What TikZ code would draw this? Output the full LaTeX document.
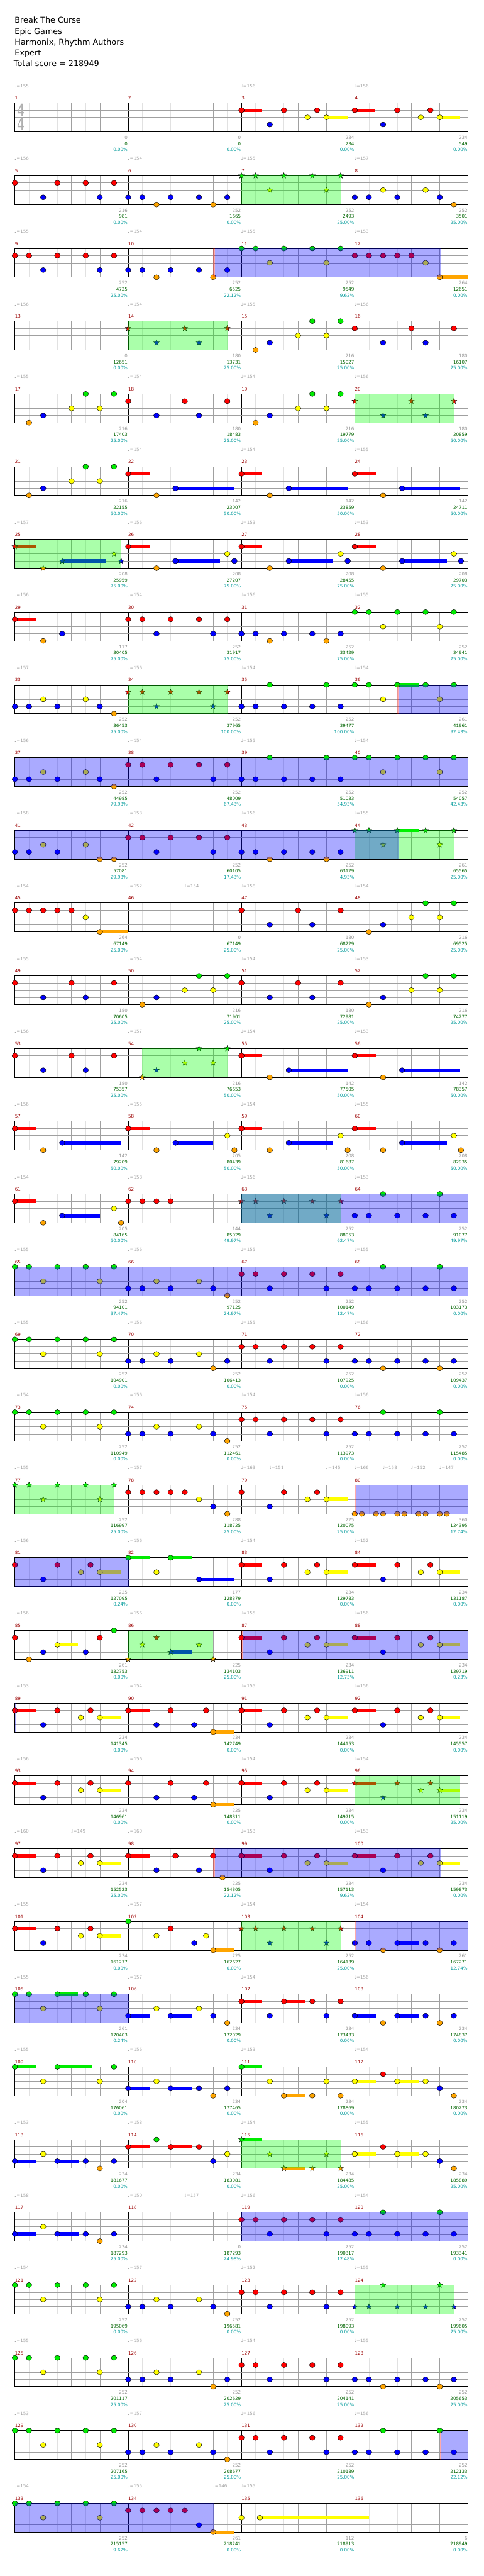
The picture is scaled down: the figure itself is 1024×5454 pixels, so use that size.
\documentclass[tikz,border=0pt]{standalone}
\usepackage{fontspec}
\setmainfont{DejaVu Sans}
\usepackage{graphicx}
\usepackage{xcolor}
\usepackage{tikz}
\definecolor{lane0}{RGB}{0, 235, 0}
\definecolor{lane1}{RGB}{255, 0, 0}
\definecolor{lane2}{RGB}{255, 255, 0}
\definecolor{lane3}{RGB}{0, 0, 255}
\definecolor{lane4}{RGB}{255, 165, 0}
\definecolor{gridlight}{RGB}{225, 225, 225}
\definecolor{gridbeat}{RGB}{160, 160, 160}
\definecolor{tempogray}{RGB}{165, 165, 165}
\definecolor{barred}{RGB}{155, 0, 0}
\definecolor{gaingray}{RGB}{150, 150, 150}
\definecolor{totalgreen}{RGB}{0, 100, 0}
\definecolor{pctteal}{RGB}{0, 155, 155}
\definecolor{siggray}{RGB}{175, 175, 175}
\newcommand{\chartfont}{\fontsize{9.5}{11}\selectfont}
\tikzset{
  halfline/.style={draw=gridlight, line width=0.9pt},
  beatline/.style={draw=gridbeat, line width=0.9pt},
  barline/.style={draw=black, line width=0.9pt},
  staffline/.style={draw=gridbeat, line width=0.9pt},
  staffframe/.style={draw=black, line width=1.2pt},
  notehead/.style={draw=black, line width=0.6pt},
  starnote/.style={draw=black, line width=0.5pt},
  phrasefill/.style={fill=green, fill opacity=0.333},
  actfill/.style={fill=blue, fill opacity=0.333},
  actmarkfill/.style={fill=red, fill opacity=0.333},
  titleline/.style={anchor=base west, inner sep=0pt, font=\fontsize{17}{20}\selectfont},
  timesig/.style={inner sep=0pt, text=siggray, font=\fontsize{37}{37}\selectfont},
  tempolabel/.style={anchor=base west, inner sep=0pt, text=tempogray, font=\chartfont},
  measurenum/.style={anchor=base west, inner sep=0pt, text=barred, font=\chartfont},
  gainlabel/.style={anchor=base east, inner sep=0pt, text=gaingray, font=\chartfont},
  totallabel/.style={anchor=base east, inner sep=0pt, text=totalgreen, font=\chartfont},
  pctlabel/.style={anchor=base east, inner sep=0pt, text=pctteal, font=\chartfont}
}
\newcommand{\staffrow}[1]{%
  \pgfmathsetmacro{\rowtop}{218+154*(#1-1)}%
  \foreach \h in {0.5,1.5,...,15.5}
    \draw[halfline] ({31.5+60*\h},\rowtop) -- ++(0,61);
  \foreach \h in {1,2,3,5,6,7,9,10,11,13,14,15}
    \draw[beatline] ({31.5+60*\h},\rowtop) -- ++(0,61);
  \foreach \h in {4,8,12}
    \draw[barline] ({31.5+60*\h},\rowtop) -- ++(0,61);
  \foreach \lane in {1,2,3}
    \draw[staffline] (31.5,{\rowtop+15.25*\lane}) -- ++(960,0);
  \draw[staffframe] (31.5,\rowtop) rectangle ++(960,61);
  \foreach \k in {0,...,3}{
    \pgfmathtruncatemacro{\m}{4*#1-3+\k}
    \node[measurenum] (bar\m) at ({31.5+240*\k},{\rowtop-6.7}) {\m};
  }%
}
\newcommand{\drawsus}[2]{%
  \pgfmathsetmacro{\rowtop}{218+154*(#1-1)}%
  \foreach \pos/\tend/\lane in {#2}
    \fill[lane\lane] ({31.5+60*\pos},{\rowtop+15.25*\lane-3.5}) rectangle ({31.5+60*\tend},{\rowtop+15.25*\lane+3.5});
}
\newcommand{\drawnotes}[2]{%
  \pgfmathsetmacro{\rowtop}{218+154*(#1-1)}%
  \foreach \pos/\lane in {#2}
    \filldraw[notehead, fill=lane\lane] ({31.5+60*\pos},{\rowtop+15.25*\lane}) circle[x radius=5.9pt, y radius=5.4pt];
}
\newcommand{\drawstars}[2]{%
  \pgfmathsetmacro{\rowtop}{218+154*(#1-1)}%
  \foreach \pos/\lane in {#2}
    \filldraw[starnote, fill=lane\lane, shift={({31.5+60*\pos},{\rowtop+15.25*\lane})}]
      (90:6.3pt) -- (126:2.6pt) -- (162:6.3pt) -- (198:2.6pt) -- (234:6.3pt) -- (270:2.6pt)
      -- (306:6.3pt) -- (342:2.6pt) -- (18:6.3pt) -- (54:2.6pt) -- cycle;
}
\newcommand{\phrase}[3]{%
  \pgfmathsetmacro{\rowtop}{218+154*(#1-1)}%
  \fill[phrasefill] ({31.5+60*#2},\rowtop) rectangle ({31.5+60*#3},{\rowtop+61});
}
\newcommand{\actmark}[3]{%
  \pgfmathsetmacro{\rowtop}{218+154*(#1-1)}%
  \fill[actmarkfill] ({31.5+60*#2},\rowtop) rectangle ({31.5+60*#3},{\rowtop+61});
}
\newcommand{\activation}[3]{%
  \pgfmathsetmacro{\rowtop}{218+154*(#1-1)}%
  \fill[actfill] ({31.5+60*#2},\rowtop) rectangle ({31.5+60*#3},{\rowtop+61});
}
\newcommand{\tempomarks}[2]{%
  \pgfmathsetmacro{\rowtop}{218+154*(#1-1)}%
  \foreach \pos/\bpm [count=\i] in {#2}
    \node[tempolabel] (tempo#1-\i) at ({30.5+60*\pos},{\rowtop-32.7}) {♩=\bpm};
}
\newcommand{\measurescores}[2]{%
  \pgfmathsetmacro{\rowtop}{218+154*(#1-1)}%
  \foreach \gain/\tot/\pct [count=\k] in {#2}{
    \pgfmathsetmacro{\xe}{30.5+240*\k}
    \pgfmathtruncatemacro{\m}{4*#1-4+\k}
    \node[gainlabel] (gain\m) at (\xe,{\rowtop+77}) {\gain};
    \node[totallabel] (total\m) at (\xe,{\rowtop+90}) {\tot};
    \node[pctlabel] (pct\m) at (\xe,{\rowtop+102.7}) {\pct\%};
  }%
}

\begin{document}
\begin{tikzpicture}[x=1pt, y=-1pt]
  \fill[white] (0,0) rectangle (1024,5454);
  \useasboundingbox (0,0) rectangle (1024,5454);

  \foreach \txt [count=\i] in {Break The Curse, Epic Games, {Harmonix, Rhythm Authors}, Expert}
    \node[titleline] (title\i) at (31,{26+23*\i}) {\txt};
  \node[titleline] (title5) at (29,141) {Total score = 218949};

  % bars 1-4
  \staffrow{1}
  \node[timesig] (sigtop) at (44,234) {\scalebox{0.68}[1]{4}};
  \node[timesig] (sigbot) at (44,263) {\scalebox{0.68}[1]{4}};
  \drawsus{1}{8/8.73/1, 11/11.75/2, 12/12.73/1, 15/15.73/2}
  \drawnotes{1}{8/1, 9/3, 9.5/1, 10.33/2, 10.67/1, 11/2, 12/1, 13/3, 13.5/1, 14.33/2, 14.67/1, 15/2}
  \tempomarks{1}{0/155, 8/156, 12/156}
  \measurescores{1}{0/0/0.00, 0/0/0.00, 234/234/0.00, 234/549/0.00}

  % bars 5-8
  \staffrow{2}
  \drawnotes{2}{0/1, 1/3, 1.5/1, 2.5/1, 3/3, 3.5/1, 4/3, 4.5/3, 5/4, 5.5/3, 6.5/3, 7/4, 7.5/3, 12/3, 12.5/3, 13/2, 13.5/3, 14.5/2, 15/3, 15.5/4}
  \drawstars{2}{8/0, 8.5/0, 9/2, 9.5/0, 10.5/0, 11/2, 11.5/0}
  \phrase{2}{8}{11.5}
  \tempomarks{2}{0/156, 4/154, 8/155, 12/157}
  \measurescores{2}{216/981/0.00, 252/1665/0.00, 252/2493/25.00, 252/3501/25.00}

  % bars 9-12
  \staffrow{3}
  \drawsus{3}{15/16/4}
  \drawnotes{3}{0/1, 0.5/1, 1/3, 1.5/1, 2.5/1, 3/3, 3.5/1, 4/3, 4.5/3, 5/4, 5.5/3, 6.5/3, 7/4, 7.5/3, 8/0, 8.5/0, 9/2, 9.5/0, 10.5/0, 11/2, 11.5/0, 12/1, 12.5/1, 13/1, 13.5/1, 14/1, 14.5/2, 15/4}
  \actmark{3}{7}{7.07}
  \activation{3}{7.07}{15.05}
  \tempomarks{3}{0/155, 4/154, 8/155, 12/153}
  \measurescores{3}{252/4725/25.00, 252/6525/22.12, 252/9549/9.62, 264/12651/0.00}

  % bars 13-16
  \staffrow{4}
  \drawnotes{4}{8.5/4, 9/3, 10/2, 10.5/0, 11/2, 11.5/0, 12/1, 13/3, 14/1, 14.5/3, 15.5/1}
  \drawstars{4}{4/1, 5/3, 6/1, 6.5/3, 7.5/1}
  \phrase{4}{4}{7.5}
  \tempomarks{4}{0/156, 4/154, 8/155, 12/156}
  \measurescores{4}{0/12651/0.00, 180/13731/25.00, 216/15027/25.00, 180/16107/25.00}

  % bars 17-20
  \staffrow{5}
  \drawnotes{5}{0.5/4, 1/3, 2/2, 2.5/0, 3/2, 3.5/0, 4/1, 5/3, 6/1, 6.5/3, 7.5/1, 8.5/4, 9/3, 10/2, 10.5/0, 11/2, 11.5/0}
  \drawstars{5}{12/1, 13/3, 14/1, 14.5/3, 15.5/1}
  \phrase{5}{12}{15.5}
  \tempomarks{5}{0/155, 4/154, 8/154, 12/156}
  \measurescores{5}{216/17403/25.00, 180/18483/25.00, 216/19779/25.00, 180/20859/50.00}

  % bars 21-24
  \staffrow{6}
  \drawsus{6}{4/4.75/1, 5.67/7.74/3, 8/8.74/1, 9.67/11.74/3, 12/12.74/1, 13.67/15.73/3}
  \drawnotes{6}{0.5/4, 1/3, 2/2, 2.5/0, 3/2, 3.5/0, 4/1, 5/4, 5.67/3, 8/1, 9/4, 9.67/3, 12/1, 13/4, 13.67/3}
  \tempomarks{6}{4/154, 8/154, 12/155}
  \measurescores{6}{216/22155/50.00, 142/23007/50.00, 142/23859/50.00, 142/24711/50.00}

  % bars 25-28
  \staffrow{7}
  \drawsus{7}{0/0.74/1, 1.67/3.23/3, 4/4.75/1, 5.67/7.25/3, 8/8.74/1, 9.67/11.24/3, 12/12.74/1, 13.67/15.25/3}
  \drawnotes{7}{4/1, 5/4, 5.67/3, 7.5/2, 7.75/3, 8/1, 9/4, 9.67/3, 11.5/2, 11.75/3, 12/1, 13/4, 13.67/3, 15.5/2, 15.75/3}
  \drawstars{7}{0/1, 1/4, 1.67/3, 3.5/2, 3.75/3}
  \phrase{7}{0}{3.73}
  \tempomarks{7}{0/157, 4/156, 8/153, 12/153}
  \measurescores{7}{208/25959/75.00, 208/27207/75.00, 208/28455/75.00, 208/29703/75.00}

  % bars 29-32
  \staffrow{8}
  \drawsus{8}{0/0.74/1}
  \drawnotes{8}{0/1, 1/4, 1.67/3, 4/1, 4.5/1, 5/3, 5.5/1, 6.5/1, 7/3, 7.5/1, 8/3, 8.5/3, 9/4, 9.5/3, 10.5/3, 11/4, 11.5/3, 12/0, 12.5/0, 13/2, 13.5/0, 14.5/0, 15/2, 15.5/0}
  \tempomarks{8}{0/156, 4/154, 8/156, 12/155}
  \measurescores{8}{117/30405/75.00, 252/31917/75.00, 252/33429/75.00, 252/34941/75.00}

  % bars 33-36
  \staffrow{9}
  \drawsus{9}{13.5/14.25/0}
  \drawnotes{9}{0/3, 0.5/3, 1/2, 1.5/3, 2.5/2, 3/3, 3.5/4, 8/3, 8.5/3, 9/0, 9.5/3, 10.5/3, 11/0, 11.5/3, 12/0, 12.5/0, 13/2, 13.5/0, 14.5/0, 15/2, 15.5/0}
  \drawstars{9}{4/1, 4.5/1, 5/3, 5.5/1, 6.5/1, 7/3, 7.5/1}
  \phrase{9}{4}{7.5}
  \actmark{9}{13.5}{13.57}
  \activation{9}{13.57}{16}
  \tempomarks{9}{0/157, 4/156, 8/154, 12/154}
  \measurescores{9}{252/36453/75.00, 252/37965/100.00, 252/39477/100.00, 261/41961/92.43}

  % bars 37-40
  \staffrow{10}
  \drawnotes{10}{0/3, 0.5/3, 1/2, 1.5/3, 2.5/2, 3/3, 3.5/4, 4/1, 4.5/1, 5/3, 5.5/1, 6.5/1, 7/3, 7.5/1, 8/3, 8.5/3, 9/0, 9.5/3, 10.5/3, 11/0, 11.5/3, 12/0, 12.5/0, 13/2, 13.5/0, 14.5/0, 15/2, 15.5/0}
  \activation{10}{0}{16}
  \tempomarks{10}{0/156, 4/154, 8/155, 12/154}
  \measurescores{10}{252/44985/79.93, 252/48009/67.43, 252/51033/54.93, 252/54057/42.43}

  % bars 41-44
  \staffrow{11}
  \drawsus{11}{13.5/14.25/0}
  \drawnotes{11}{0/3, 0.5/3, 1/2, 1.5/3, 2.5/2, 3/4, 3.5/4, 4/1, 4.5/1, 5/3, 5.5/1, 6.5/1, 7/3, 7.5/1, 8/3, 8.5/3, 9/4, 9.5/3, 10.5/3, 11/4, 11.5/3}
  \drawstars{11}{12/0, 12.5/0, 13/2, 13.5/0, 14.5/0, 15/2, 15.5/0}
  \phrase{11}{12}{15.5}
  \activation{11}{0}{13.57}
  \tempomarks{11}{0/158, 4/153, 8/156, 12/155}
  \measurescores{11}{252/57081/29.93, 252/60105/17.43, 252/63129/4.93, 261/65565/25.00}

  % bars 45-48
  \staffrow{12}
  \drawsus{12}{3/4/4}
  \drawnotes{12}{0/1, 0.5/1, 1/1, 1.5/1, 2/1, 2.5/2, 3/4, 8/1, 9/3, 10/1, 10.5/3, 11.5/1, 12.5/4, 13/3, 14/2, 14.5/0, 15/2, 15.5/0}
  \tempomarks{12}{0/154, 4/152, 6/154, 8/158, 12/154}
  \measurescores{12}{264/67149/25.00, 0/67149/25.00, 180/68229/25.00, 216/69525/25.00}

  % bars 49-52
  \staffrow{13}
  \drawnotes{13}{0/1, 1/3, 2/1, 2.5/3, 3.5/1, 4.5/4, 5/3, 6/2, 6.5/0, 7/2, 7.5/0, 8/1, 9/3, 10/1, 10.5/3, 11.5/1, 12.5/4, 13/3, 14/2, 14.5/0, 15/2, 15.5/0}
  \tempomarks{13}{0/155, 4/154, 8/154, 12/153}
  \measurescores{13}{180/70605/25.00, 216/71901/25.00, 180/72981/25.00, 216/74277/25.00}

  % bars 53-56
  \staffrow{14}
  \drawsus{14}{8/8.74/1, 9.67/11.74/3, 12/12.74/1, 13.67/15.73/3}
  \drawnotes{14}{0/1, 1/3, 2/1, 2.5/3, 3.5/1, 8/1, 9/4, 9.67/3, 12/1, 13/4, 13.67/3}
  \drawstars{14}{4.5/4, 5/3, 6/2, 6.5/0, 7/2, 7.5/0}
  \phrase{14}{4.5}{7.5}
  \tempomarks{14}{0/156, 4/157, 8/154, 12/153}
  \measurescores{14}{180/75357/25.00, 216/76653/50.00, 142/77505/50.00, 142/78357/50.00}

  % bars 57-60
  \staffrow{15}
  \drawsus{15}{0/0.74/1, 1.67/3.73/3, 4/4.75/1, 5.67/7/3, 8/8.74/1, 9.67/11.24/3, 12/12.74/1, 13.67/15.25/3}
  \drawnotes{15}{0/1, 1/4, 1.67/3, 4/1, 5/4, 5.67/3, 7.5/2, 7.75/4, 8/1, 9/4, 9.67/3, 11.5/2, 11.75/4, 12/1, 13/4, 13.67/3, 15.5/2, 15.75/4}
  \tempomarks{15}{0/156, 4/155, 8/154, 12/155}
  \measurescores{15}{142/79209/50.00, 205/80439/50.00, 208/81687/50.00, 208/82935/50.00}

  % bars 61-64
  \staffrow{16}
  \drawsus{16}{0/0.74/1, 1.67/3/3}
  \drawnotes{16}{0/1, 1/4, 1.67/3, 3.5/2, 3.75/4, 4/1, 4.5/1, 5/1, 5.5/1, 12/3, 12.5/3, 13/0, 13.5/3, 14.5/3, 15/0, 15.5/3}
  \drawstars{16}{8/1, 8.5/1, 9/3, 9.5/1, 10.5/1, 11/3, 11.5/1}
  \phrase{16}{8}{11.5}
  \activation{16}{8}{16}
  \tempomarks{16}{0/154, 4/158, 8/156, 12/153}
  \measurescores{16}{205/84165/50.00, 144/85029/49.97, 252/88053/62.47, 252/91077/49.97}

  % bars 65-68
  \staffrow{17}
  \drawnotes{17}{0/0, 0.5/0, 1/2, 1.5/0, 2.5/0, 3/2, 3.5/0, 4/3, 4.5/3, 5/2, 5.5/3, 6.5/2, 7/3, 7.5/4, 8/1, 8.5/1, 9/3, 9.5/1, 10.5/1, 11/3, 11.5/1, 12/3, 12.5/3, 13/0, 13.5/3, 14.5/3, 15/0, 15.5/3}
  \activation{17}{0}{16}
  \tempomarks{17}{0/155, 4/156, 8/155, 12/155}
  \measurescores{17}{252/94101/37.47, 252/97125/24.97, 252/100149/12.47, 252/103173/0.00}

  % bars 69-72
  \staffrow{18}
  \drawnotes{18}{0/0, 0.5/0, 1/2, 1.5/0, 2.5/0, 3/2, 3.5/0, 4/3, 4.5/3, 5/2, 5.5/3, 6.5/2, 7/4, 7.5/3, 8/1, 8.5/1, 9/3, 9.5/1, 10.5/1, 11/3, 11.5/1, 12/3, 12.5/3, 13/4, 13.5/3, 14.5/3, 15/4, 15.5/3}
  \tempomarks{18}{0/155, 4/156, 8/155, 12/156}
  \measurescores{18}{252/104901/0.00, 252/106413/0.00, 252/107925/0.00, 252/109437/0.00}

  % bars 73-76
  \staffrow{19}
  \drawnotes{19}{0/0, 0.5/0, 1/2, 1.5/0, 2.5/0, 3/2, 3.5/0, 4/3, 4.5/3, 5/2, 5.5/3, 6.5/2, 7/3, 7.5/4, 8/1, 8.5/1, 9/3, 9.5/1, 10.5/1, 11/3, 11.5/1, 12/3, 12.5/3, 13/0, 13.5/3, 14.5/3, 15/0, 15.5/3}
  \tempomarks{19}{0/154, 4/156, 8/154, 12/156}
  \measurescores{19}{252/110949/0.00, 252/112461/0.00, 252/113973/0.00, 252/115485/0.00}

  % bars 77-80
  \staffrow{20}
  \drawsus{20}{11/11.75/2}
  \drawnotes{20}{4/1, 4.5/1, 5/1, 5.5/1, 6/1, 6.5/2, 7/3, 7.5/4, 8/1, 9/3, 9.5/1, 10.33/2, 10.67/1, 11/2, 12/4, 12.25/4, 12.75/4, 13/4, 13.5/4, 13.75/4, 14.25/4, 14.5/4, 15/4, 15.25/4}
  \drawstars{20}{0/0, 0.5/0, 1/2, 1.5/0, 2.5/0, 3/2, 3.5/0}
  \phrase{20}{0}{3.5}
  \actmark{20}{12}{12.05}
  \activation{20}{12.05}{16}
  \tempomarks{20}{0/155, 4/157, 8/163, 9/151, 11/145, 12/166, 13/158, 14/152, 15/147}
  \measurescores{20}{252/116997/25.00, 288/118725/25.00, 225/120075/25.00, 360/124395/12.74}

  % bars 81-84
  \staffrow{21}
  \drawsus{21}{3/3.73/2, 4/4.75/0, 5.5/6.24/0, 6.5/7.74/3, 8/8.74/1, 11/11.75/2, 12/12.74/1, 15/15.73/2}
  \drawnotes{21}{0/1, 1/3, 1.5/1, 2.33/2, 2.67/1, 3/2, 4/0, 5/2, 5.5/0, 6.5/3, 8/1, 9/3, 9.5/1, 10.33/2, 10.67/1, 11/2, 12/1, 13/3, 13.5/1, 14.33/2, 14.67/1, 15/2}
  \activation{21}{0}{4.05}
  \tempomarks{21}{0/156, 4/156, 8/154, 12/152}
  \measurescores{21}{225/127095/0.24, 177/128379/0.00, 234/129783/0.00, 234/131187/0.00}

  % bars 85-88
  \staffrow{22}
  \drawsus{22}{1.5/2.23/2, 5.5/6.24/3, 8/8.74/1, 11/11.75/2, 12/12.74/1, 15/15.73/2}
  \drawnotes{22}{0/1, 0.5/4, 1/3, 1.5/2, 2.5/3, 3/1, 3.5/0, 8/1, 9/3, 9.5/1, 10.33/2, 10.67/1, 11/2, 12/1, 13/3, 13.5/1, 14.33/2, 14.67/1, 15/2}
  \drawstars{22}{4/4, 4.5/2, 5/1, 5.5/3, 6.5/2, 7/4}
  \phrase{22}{4}{7}
  \actmark{22}{8}{8.07}
  \activation{22}{8.07}{16}
  \tempomarks{22}{0/156, 4/156, 8/155, 12/156}
  \measurescores{22}{261/132753/0.00, 225/134103/25.00, 234/136911/12.73, 234/139719/0.23}

  % bars 89-92
  \staffrow{23}
  \drawsus{23}{0/0.74/1, 3/3.73/2, 4/4.75/1, 7/7.74/4, 8/8.74/1, 11/11.75/2, 12/12.74/1, 15/15.73/2}
  \drawnotes{23}{0/1, 1/3, 1.5/1, 2.33/2, 2.67/1, 3/2, 4/1, 5/3, 5.5/1, 6.33/3, 6.75/1, 7/4, 8/1, 9/3, 9.5/1, 10.33/2, 10.67/1, 11/2, 12/1, 13/3, 13.5/1, 14.33/2, 14.67/1, 15/2}
  \activation{23}{0}{0.05}
  \tempomarks{23}{0/153, 4/154, 8/155, 12/156}
  \measurescores{23}{234/141345/0.00, 234/142749/0.00, 234/144153/0.00, 234/145557/0.00}

  % bars 93-96
  \staffrow{24}
  \drawsus{24}{0/0.74/1, 3/3.73/2, 7/7.74/4, 8/8.74/1, 11/11.75/2, 12/12.74/1, 15/15.73/2}
  \drawnotes{24}{0/1, 1/3, 1.5/1, 2.33/2, 2.67/1, 3/2, 4/1, 5/3, 5.5/1, 6.33/3, 6.75/1, 7/4, 8/1, 9/3, 9.5/1, 10.33/2, 10.67/1, 11/2}
  \drawstars{24}{12/1, 13/3, 13.5/1, 14.33/2, 14.67/1, 15/2}
  \phrase{24}{12}{15.73}
  \tempomarks{24}{0/156, 4/156, 8/154, 12/154}
  \measurescores{24}{234/146961/0.00, 225/148311/0.00, 234/149715/0.00, 234/151119/25.00}

  % bars 97-100
  \staffrow{25}
  \drawsus{25}{0/0.74/1, 3/3.73/2, 4/4.75/1, 8/8.74/1, 11/11.75/2, 12/12.74/1, 15/15.73/2}
  \drawnotes{25}{0/1, 1/3, 1.5/1, 2.33/2, 2.67/1, 3/2, 4/1, 5/3, 5.67/1, 6.5/3, 7/1, 7.33/4, 8/1, 9/3, 9.5/1, 10.33/2, 10.67/1, 11/2, 12/1, 13/3, 13.5/1, 14.33/2, 14.67/1, 15/2}
  \actmark{25}{7}{7.07}
  \activation{25}{7.07}{15.05}
  \tempomarks{25}{0/160, 2/149, 4/160, 8/153, 12/153}
  \measurescores{25}{234/152523/25.00, 225/154305/22.12, 234/157113/9.62, 234/159873/0.00}

  % bars 101-104
  \staffrow{26}
  \drawsus{26}{0/0.74/1, 3/3.73/2, 7/7.74/4, 13.5/14.25/3}
  \drawnotes{26}{0/1, 1/3, 1.5/1, 2.33/2, 2.67/1, 3/2, 4/0, 5/2, 5.5/1, 6.33/3, 6.75/2, 7/4, 12/3, 12.5/3, 13/4, 13.5/3, 14.5/3, 15/4, 15.5/3}
  \drawstars{26}{8/1, 8.5/1, 9/3, 9.5/1, 10.5/1, 11/3, 11.5/1}
  \phrase{26}{8}{11.5}
  \actmark{26}{12}{12.05}
  \activation{26}{12.05}{16}
  \tempomarks{26}{0/155, 4/157, 8/154, 12/154}
  \measurescores{26}{234/161277/0.00, 225/162627/0.00, 252/164139/25.00, 261/167271/12.74}

  % bars 105-108
  \staffrow{27}
  \drawsus{27}{1.5/2.23/0, 4/4.75/3, 5.5/6.24/3, 8/8.74/1, 9.5/10.24/1, 12/12.74/3, 13.5/14.25/3}
  \drawnotes{27}{0/0, 0.5/0, 1/2, 1.5/0, 2.5/0, 3/2, 3.5/0, 4/3, 5/2, 5.5/3, 6.5/2, 7/3, 7.5/4, 8/1, 9/3, 9.5/1, 10.5/1, 11/3, 11.5/1, 12/3, 13/4, 13.5/3, 14.5/3, 15/4, 15.5/3}
  \activation{27}{0}{4.05}
  \tempomarks{27}{0/155, 4/157, 8/154, 12/156}
  \measurescores{27}{261/170403/0.24, 234/172029/0.00, 234/173433/0.00, 234/174837/0.00}

  % bars 109-112
  \staffrow{28}
  \drawsus{28}{0/0.74/0, 1.5/2.73/0, 4/4.75/3, 5.5/6.24/3, 8/8.74/0, 9.5/10.24/4, 12/12.74/2, 13.5/14.25/2}
  \drawnotes{28}{0/0, 1/2, 1.5/0, 3/2, 3.5/0, 4/3, 5/2, 5.5/3, 6.5/3, 7/4, 7.5/3, 8/0, 9/2, 9.5/4, 10.5/4, 11/2, 11.5/4, 12/2, 13/1, 13.5/2, 14.5/2, 15/3, 15.5/4}
  \tempomarks{28}{0/155, 4/156, 8/153, 12/154}
  \measurescores{28}{204/176061/0.00, 234/177465/0.00, 234/178869/0.00, 234/180273/0.00}

  % bars 113-116
  \staffrow{29}
  \drawsus{29}{0/0.74/3, 1.5/2.24/3, 4/4.75/1, 5.5/6.24/1, 8/8.74/0, 9.5/10.24/4, 12/12.74/2, 13.5/14.25/2}
  \drawnotes{29}{0/3, 1/2, 1.5/3, 2.5/3, 3/4, 3.5/3, 4/1, 5/0, 5.5/1, 6.5/1, 7/3, 7.5/2, 12/2, 13/1, 13.5/2, 14.5/2, 15/3, 15.5/4}
  \drawstars{29}{8/0, 9/2, 9.5/4, 10.5/4, 11/2, 11.5/4}
  \phrase{29}{8}{11.5}
  \tempomarks{29}{0/153, 4/158, 8/154, 12/155}
  \measurescores{29}{234/181677/0.00, 234/183081/0.00, 234/184485/25.00, 234/185889/25.00}

  % bars 117-120
  \staffrow{30}
  \drawsus{30}{0/0.74/3, 1.5/2.24/3}
  \drawnotes{30}{0/3, 1/2, 1.5/3, 2.5/3, 3/4, 3.5/3, 8/1, 8.5/1, 9/3, 9.5/1, 10.5/1, 11/3, 11.5/1, 12/3, 12.5/3, 13/0, 13.5/3, 14.5/3, 15/0, 15.5/3}
  \activation{30}{8}{16}
  \tempomarks{30}{0/158, 4/150, 6/157, 8/156, 12/154}
  \measurescores{30}{234/187293/25.00, 0/187293/24.98, 252/190317/12.48, 252/193341/0.00}

  % bars 121-124
  \staffrow{31}
  \drawnotes{31}{0/0, 0.5/0, 1/2, 1.5/0, 2.5/0, 3/2, 3.5/0, 4/3, 4.5/3, 5/2, 5.5/3, 6.5/2, 7/3, 7.5/4, 8/1, 8.5/1, 9/3, 9.5/1, 10.5/1, 11/3, 11.5/1}
  \drawstars{31}{12/3, 12.5/3, 13/0, 13.5/3, 14.5/3, 15/0, 15.5/3}
  \phrase{31}{12}{15.5}
  \tempomarks{31}{0/154, 4/157, 8/152, 12/155}
  \measurescores{31}{252/195069/0.00, 252/196581/0.00, 252/198093/0.00, 252/199605/25.00}

  % bars 125-128
  \staffrow{32}
  \drawnotes{32}{0/0, 0.5/0, 1/2, 1.5/0, 2.5/0, 3/2, 3.5/0, 4/3, 4.5/3, 5/2, 5.5/3, 6.5/2, 7/4, 7.5/3, 8/1, 8.5/1, 9/3, 9.5/1, 10.5/1, 11/3, 11.5/1, 12/3, 12.5/3, 13/4, 13.5/3, 14.5/3, 15/4, 15.5/3}
  \tempomarks{32}{0/155, 4/156, 8/154, 12/155}
  \measurescores{32}{252/201117/25.00, 252/202629/25.00, 252/204141/25.00, 252/205653/25.00}

  % bars 129-132
  \staffrow{33}
  \drawnotes{33}{0/0, 0.5/0, 1/2, 1.5/0, 2.5/0, 3/2, 3.5/0, 4/3, 4.5/3, 5/2, 5.5/3, 6.5/2, 7/3, 7.5/4, 8/1, 8.5/1, 9/3, 9.5/1, 10.5/1, 11/3, 11.5/1, 12/3, 12.5/3, 13/0, 13.5/3, 14.5/3, 15/0, 15.5/3}
  \actmark{33}{15}{15.05}
  \activation{33}{15.05}{16}
  \tempomarks{33}{0/153, 4/157, 8/156, 12/156}
  \measurescores{33}{252/207165/25.00, 252/208677/25.00, 252/210189/25.00, 252/212133/22.12}

  % bars 133-136
  \staffrow{34}
  \drawsus{34}{7/7.74/4, 8.65/12.5/2}
  \drawnotes{34}{0/0, 0.5/0, 1/2, 1.5/0, 2.5/0, 3/2, 3.5/0, 4/1, 4.5/1, 5/1, 5.5/1, 6/1, 6.5/3, 7/4, 8/2, 8.65/2}
  \activation{34}{0}{7.05}
  \tempomarks{34}{0/154, 4/155, 7/146, 8/155}
  \measurescores{34}{252/215157/9.62, 261/218241/0.00, 112/218913/0.00, 6/218949/0.00}
\end{tikzpicture}
\end{document}
